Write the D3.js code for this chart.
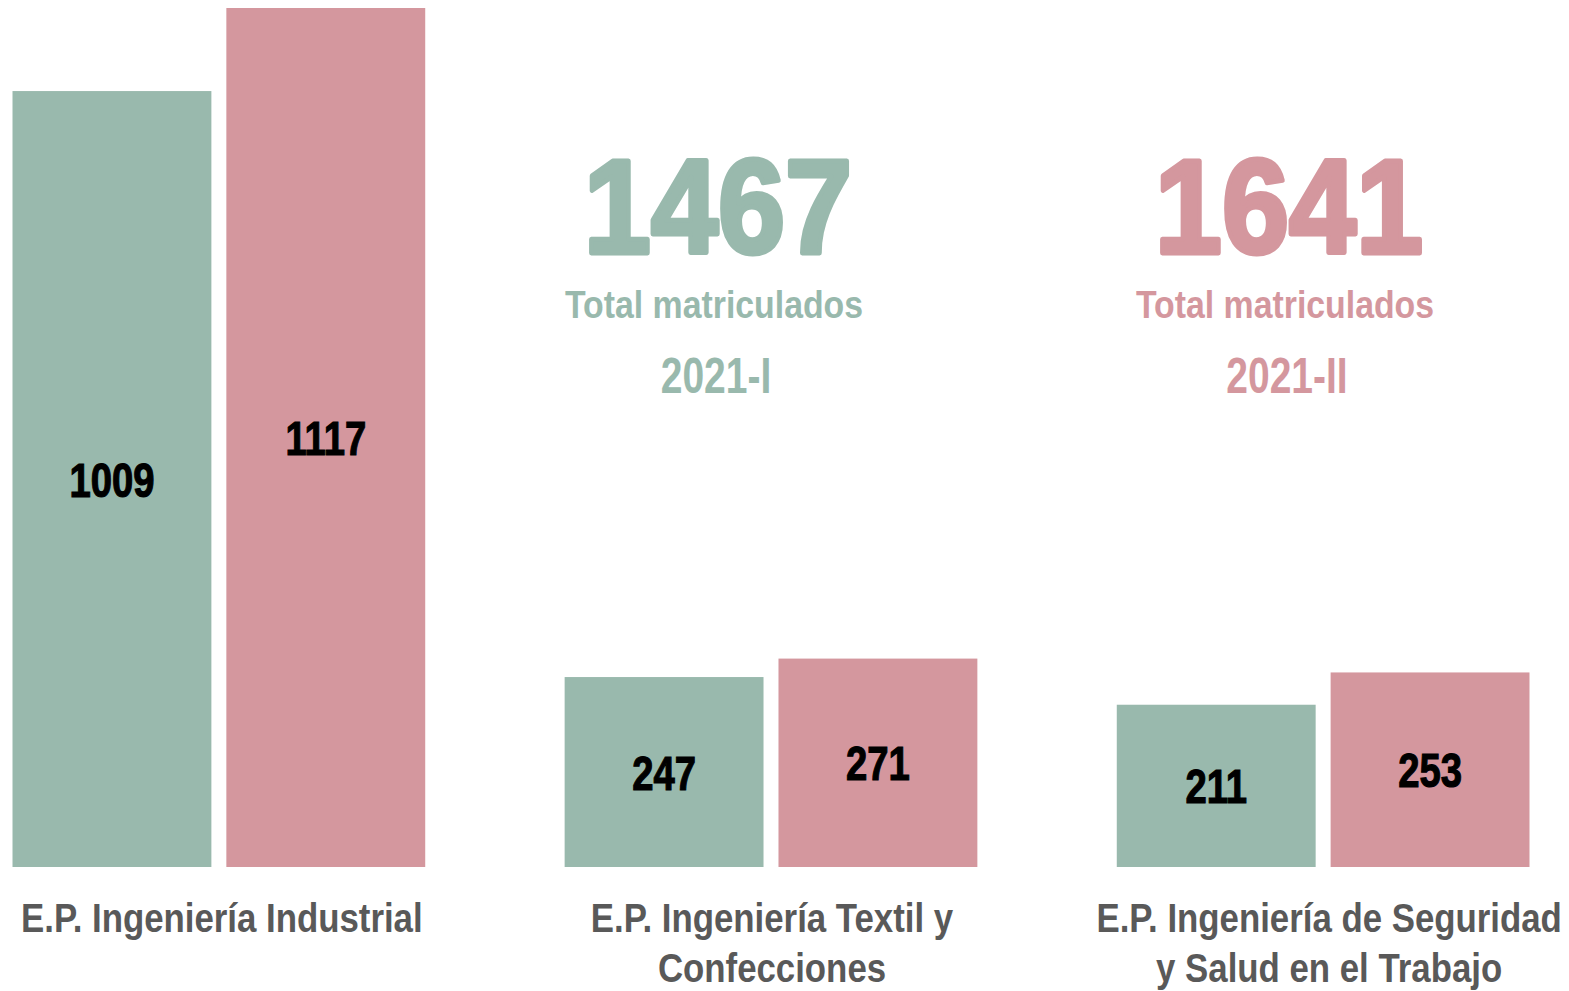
<!DOCTYPE html>
<html>
<head>
<meta charset="utf-8">
<script src="https://cdn.jsdelivr.net/npm/d3@7"></script>
<style>
  html, body { margin: 0; padding: 0; background: #fff; }
  svg { display: block; }
  text { font-family: "Liberation Sans", Arial, sans-serif; font-weight: bold; }
</style>
</head>
<body>
<svg id="chart"></svg>
<script>
const categories = [
    'E.P. Ingeniería Industrial',
    'E.P. Ingeniería Textil y Confecciones',
    'E.P. Ingeniería de Seguridad y Salud en el Trabajo'
];
const categoryLines = [
    ['E.P. Ingeniería Industrial'],
    ['E.P. Ingeniería Textil y', 'Confecciones'],
    ['E.P. Ingeniería de Seguridad', 'y Salud en el Trabajo']
];
const periods = ['2021-I', '2021-II'];
const values2021I = [1009, 247, 211];
const values2021II = [1117, 271, 253];

const WIDTH = 1569;
const HEIGHT = 991;
const BASE_Y = 867;
const TOP_Y = 8;

const colors = { '2021-I': '#99b9ad', '2021-II': '#d4979e' };
const labelGray = '#595959';

// small horizontal nudges of the category captions (layout only)
const captionShift = [3, 1, 6];

const series = { '2021-I': values2021I, '2021-II': values2021II };

const data = categories.map((c, i) => ({
    category: c,
    lines: categoryLines[i],
    shift: captionShift[i],
    values: periods.map(p => ({ period: p, value: series[p][i] }))
}));

const svg = d3.select('#chart')
    .attr('width', WIDTH)
    .attr('height', HEIGHT)
    .attr('viewBox', `0 0 ${WIDTH} ${HEIGHT}`);

const x0 = d3.scaleBand()
    .domain(categories)
    .range([12.5, 1529.5])
    .paddingInner(0.2525)
    .paddingOuter(0);

const x1 = d3.scaleBand()
    .domain(periods)
    .range([0, x0.bandwidth()])
    .paddingInner(0.07);

const y = d3.scaleLinear()
    .domain([0, d3.max([...values2021I, ...values2021II])])
    .range([BASE_Y, TOP_Y]);

// text squeezed horizontally to look like a condensed face
function condensed(parent, x, yPos, sx, txt) {
    const g = parent.append('g')
        .attr('transform', `translate(${x},${yPos}) scale(${sx},1)`);
    return g.append('text')
        .attr('text-anchor', 'middle')
        .text(txt);
}

const groups = svg.selectAll('g.group')
    .data(data)
    .join('g')
    .attr('class', 'group')
    .attr('transform', d => `translate(${x0(d.category)},0)`);

groups.selectAll('rect')
    .data(d => d.values)
    .join('rect')
    .attr('x', d => x1(d.period))
    .attr('y', d => y(d.value))
    .attr('width', x1.bandwidth())
    .attr('height', d => y(0) - y(d.value))
    .attr('fill', d => colors[d.period]);

groups.each(function (d) {
    const g = d3.select(this);
    d.values.forEach(v => {
        const cx = x1(v.period) + x1.bandwidth() / 2;
        const cy = (y(v.value) + y(0)) / 2;
        condensed(g, cx, cy + 17.5, 0.78, v.value)
            .style('font-size', '49px')
            .style('fill', '#000')
            .style('stroke', '#000')
            .style('stroke-width', 1.2);
    });
    d.lines.forEach((line, i) => {
        condensed(g, x0.bandwidth() / 2 + d.shift, 932 + i * 50, 0.87, line)
            .style('font-size', '40px')
            .style('fill', labelGray);
    });
});

// totals
const totals = [
    { period: '2021-I', total: d3.sum(values2021I), cx: 716 },
    { period: '2021-II', total: d3.sum(values2021II), cx: 1287 }
];

totals.forEach(t => {
    condensed(svg, t.cx + 2, 252.5, 0.9, t.total)
        .style('font-size', '134px')
        .style('fill', colors[t.period])
        .style('stroke', colors[t.period])
        .style('stroke-width', 5)
        .style('stroke-linejoin', 'round');
    condensed(svg, t.cx - 2, 318, 0.89, 'Total matriculados')
        .style('font-size', '38px')
        .style('fill', colors[t.period]);
    condensed(svg, t.cx, 392.5, 0.78, t.period)
        .style('font-size', '50px')
        .style('fill', colors[t.period]);
});
</script>
</body>
</html>
